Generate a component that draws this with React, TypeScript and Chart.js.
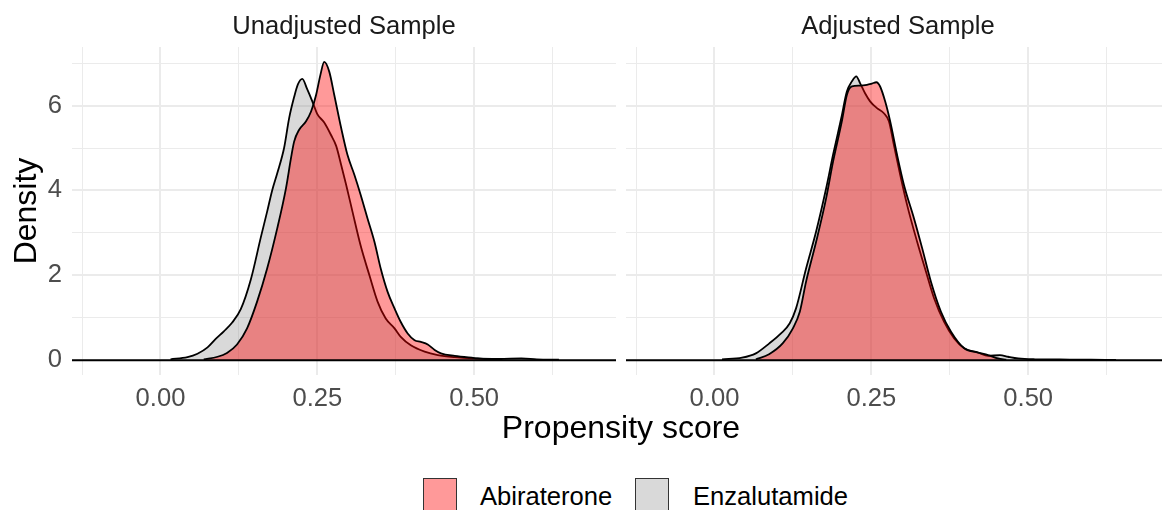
import React, { useEffect, useRef } from "react";
import { Chart, registerables } from "chart.js";

Chart.register(...registerables);

// ---------- data ----------
const seriesNames = ["Abiraterone", "Enzalutamide"];
const panelTitles = ["Unadjusted Sample", "Adjusted Sample"];
const xAxisTitle = "Propensity score";
const yAxisTitle = "Density";
const xTickLabels = ["0.00", "0.25", "0.50"];
const yTickLabels = ["0", "2", "4", "6"];

// Unadjusted sample – Abiraterone
const unadjAbiX = [0.069, 0.091, 0.106, 0.122, 0.138, 0.154, 0.170, 0.186, 0.200, 0.208, 0.213, 0.221, 0.232, 0.240, 0.248, 0.255, 0.261, 0.269, 0.277, 0.288, 0.298, 0.309, 0.319, 0.330, 0.341, 0.351, 0.362, 0.373, 0.383, 0.394, 0.405, 0.415, 0.426, 0.437, 0.447, 0.469, 0.500, 0.520, 0.545];
const unadjAbiY = [0.02, 0.08, 0.17, 0.37, 0.75, 1.38, 2.16, 3.10, 4.05, 4.76, 5.15, 5.43, 5.63, 5.86, 6.25, 6.73, 7.03, 6.80, 6.25, 5.47, 4.84, 4.37, 3.90, 3.34, 2.79, 2.16, 1.61, 1.22, 0.90, 0.63, 0.47, 0.43, 0.37, 0.24, 0.16, 0.10, 0.05, 0.02, 0.005];

// Unadjusted sample – Enzalutamide
const unadjEnzX = [0.016, 0.043, 0.059, 0.075, 0.088, 0.101, 0.114, 0.128, 0.144, 0.160, 0.170, 0.178, 0.186, 0.197, 0.205, 0.213, 0.219, 0.226, 0.234, 0.242, 0.250, 0.261, 0.272, 0.280, 0.288, 0.296, 0.306, 0.319, 0.333, 0.346, 0.359, 0.373, 0.383, 0.399, 0.421, 0.442, 0.469, 0.500, 0.540, 0.575, 0.600, 0.635];
const unadjEnzY = [0.02, 0.07, 0.15, 0.30, 0.50, 0.68, 0.88, 1.20, 1.90, 2.90, 3.50, 4.00, 4.40, 5.00, 5.70, 6.20, 6.50, 6.63, 6.38, 6.10, 5.80, 5.60, 5.30, 5.05, 4.60, 4.13, 3.50, 2.70, 2.00, 1.38, 0.98, 0.75, 0.55, 0.35, 0.20, 0.12, 0.07, 0.04, 0.03, 0.04, 0.02, 0.01];

// Adjusted sample – Abiraterone
const adjAbiX = [0.066, 0.087, 0.109, 0.125, 0.136, 0.146, 0.162, 0.178, 0.189, 0.203, 0.211, 0.219, 0.232, 0.243, 0.251, 0.258, 0.264, 0.272, 0.280, 0.291, 0.302, 0.318, 0.331, 0.345, 0.361, 0.377, 0.398, 0.420, 0.436, 0.452, 0.465];
const adjAbiY = [0.02, 0.14, 0.40, 0.75, 1.14, 1.85, 2.79, 3.82, 4.68, 5.63, 6.25, 6.45, 6.47, 6.49, 6.52, 6.55, 6.45, 6.10, 5.63, 4.84, 4.13, 3.34, 2.64, 1.85, 1.14, 0.67, 0.28, 0.18, 0.12, 0.04, 0.01];

// Adjusted sample – Enzalutamide
const adjEnzX = [0.012, 0.044, 0.066, 0.087, 0.106, 0.120, 0.130, 0.146, 0.162, 0.178, 0.189, 0.202, 0.211, 0.219, 0.226, 0.232, 0.240, 0.248, 0.259, 0.270, 0.278, 0.286, 0.296, 0.307, 0.323, 0.337, 0.350, 0.366, 0.382, 0.398, 0.420, 0.436, 0.455, 0.468, 0.484, 0.511, 0.550, 0.600, 0.640];
const adjEnzY = [0.02, 0.06, 0.16, 0.39, 0.63, 0.87, 1.22, 2.16, 3.03, 4.05, 4.84, 5.70, 6.33, 6.57, 6.69, 6.53, 6.29, 6.10, 5.94, 5.82, 5.63, 5.07, 4.37, 3.66, 2.79, 2.09, 1.46, 0.90, 0.51, 0.28, 0.18, 0.10, 0.12, 0.08, 0.04, 0.02, 0.015, 0.01, 0.005];

// ---------- styling ----------
const FONT = "'Liberation Sans', Arial, Helvetica, sans-serif";
const ABI_FILL = "rgba(255,0,0,0.4)";
const ENZ_FILL = "rgba(128,128,128,0.3)";
const GRID = "#EBEBEB";
const X_MIN = -0.141;
const X_MAX = 0.726;
const Y_MIN = -0.35;
const Y_MAX = 7.38;

const toPoints = (xs: number[], ys: number[]) => xs.map((x, i) => ({ x, y: ys[i] }));

const isXMajor = (v: number) => xTickLabels.some((l) => Math.abs(Number(l) - v) < 1e-6);
const isYMajor = (v: number) => yTickLabels.some((l) => Math.abs(Number(l) - v) < 1e-6);

const zeroLine = {
  id: "zeroLine",
  afterDatasetsDraw(chart: any) {
    const { ctx, chartArea, scales } = chart;
    const y = scales.y.getPixelForValue(0);
    ctx.save();
    ctx.strokeStyle = "#000";
    ctx.lineWidth = 2;
    ctx.beginPath();
    ctx.moveTo(chartArea.left, y);
    ctx.lineTo(chartArea.right, y);
    ctx.stroke();
    ctx.restore();
  },
};

type PanelProps = {
  title: string;
  abiX: number[];
  abiY: number[];
  enzX: number[];
  enzY: number[];
  showY: boolean;
  left: number;
  width: number;
};

function Panel({ title, abiX, abiY, enzX, enzY, showY, left, width }: PanelProps) {
  const ref = useRef<HTMLCanvasElement>(null);
  useEffect(() => {
    const chart = new Chart(ref.current as HTMLCanvasElement, {
      type: "line",
      data: {
        datasets: [
          {
            label: seriesNames[0],
            data: toPoints(abiX, abiY),
            backgroundColor: ABI_FILL,
            borderColor: "#000",
            borderWidth: 1.8,
            fill: "origin",
            pointRadius: 0,
            cubicInterpolationMode: "monotone",
          },
          {
            label: seriesNames[1],
            data: toPoints(enzX, enzY),
            backgroundColor: ENZ_FILL,
            borderColor: "#000",
            borderWidth: 1.8,
            fill: "origin",
            pointRadius: 0,
            cubicInterpolationMode: "monotone",
          },
        ],
      } as any,
      options: {
        animation: false,
        responsive: false,
        maintainAspectRatio: false,
        layout: { padding: 0 },
        plugins: {
          legend: { display: false },
          tooltip: { enabled: false },
          title: {
            display: true,
            text: title,
            fullSize: false,
            color: "#1A1A1A",
            font: { family: FONT, size: 25.6, weight: "normal" },
            padding: { top: 11.6, bottom: 4.7 },
          },
        },
        scales: {
          x: {
            type: "linear",
            min: X_MIN,
            max: X_MAX,
            afterFit: (s: any) => {
              s.height = 35;
            },
            border: { display: false },
            grid: {
              drawTicks: false,
              color: GRID,
              lineWidth: (c: any) => (c.tick && isXMajor(c.tick.value) ? 2 : 1),
            },
            ticks: {
              stepSize: 0.125,
              includeBounds: false,
              autoSkip: false,
              maxRotation: 0,
              padding: 9,
              color: "#4D4D4D",
              font: { family: FONT, size: 25.6 },
              callback: (v: any) => {
                const lab = xTickLabels.find((l) => Math.abs(Number(l) - Number(v)) < 1e-6);
                return lab ?? "";
              },
            },
          },
          y: {
            type: "linear",
            min: Y_MIN,
            max: Y_MAX,
            afterFit: (s: any) => {
              s.width = showY ? 72 : 0;
            },
            border: { display: false },
            title: {
              display: showY,
              text: yAxisTitle,
              color: "#000",
              font: { family: FONT, size: 32 },
              padding: { top: 8, bottom: 0 },
            },
            grid: {
              drawTicks: false,
              color: GRID,
              lineWidth: (c: any) => (c.tick && isYMajor(c.tick.value) ? 2 : 1),
            },
            ticks: {
              display: showY,
              stepSize: 1,
              includeBounds: false,
              autoSkip: false,
              padding: 10,
              color: "#4D4D4D",
              font: { family: FONT, size: 25.6 },
              callback: (v: any) => {
                const lab = yTickLabels.find((l) => Math.abs(Number(l) - Number(v)) < 1e-6);
                return lab ?? "";
              },
            },
          },
        },
      } as any,
      plugins: [zeroLine],
    });
    return () => chart.destroy();
  }, []);
  return (
    <canvas
      ref={ref}
      width={width}
      height={410}
      style={{ position: "absolute", left, top: 0, width, height: 410 }}
    />
  );
}

export default function App() {
  const legendText: React.CSSProperties = {
    position: "absolute",
    top: 481,
    fontFamily: FONT,
    fontSize: 25.6,
    lineHeight: "30px",
    color: "#000",
    whiteSpace: "nowrap",
  };
  const legendBox: React.CSSProperties = {
    position: "absolute",
    top: 478,
    width: 34,
    height: 34,
    boxSizing: "border-box",
    border: "1.5px solid #333",
  };
  return (
    <div
      style={{
        position: "absolute",
        left: 0,
        top: 0,
        width: 1162,
        height: 510,
        overflow: "hidden",
        background: "#fff",
      }}
    >
      <Panel
        title={panelTitles[0]}
        abiX={unadjAbiX}
        abiY={unadjAbiY}
        enzX={unadjEnzX}
        enzY={unadjEnzY}
        showY={true}
        left={0}
        width={616}
      />
      <Panel
        title={panelTitles[1]}
        abiX={adjAbiX}
        abiY={adjAbiY}
        enzX={adjEnzX}
        enzY={adjEnzY}
        showY={false}
        left={626}
        width={544}
      />
      <div
        style={{
          position: "absolute",
          left: 0,
          width: 1242,
          top: 411,
          textAlign: "center",
          fontFamily: FONT,
          fontSize: 32,
          lineHeight: "32px",
          color: "#000",
        }}
      >
        {xAxisTitle}
      </div>
      <div style={{ ...legendBox, left: 423, background: ABI_FILL }} />
      <div style={{ ...legendText, left: 480 }}>{seriesNames[0]}</div>
      <div style={{ ...legendBox, left: 635, background: ENZ_FILL }} />
      <div style={{ ...legendText, left: 693 }}>{seriesNames[1]}</div>
    </div>
  );
}
